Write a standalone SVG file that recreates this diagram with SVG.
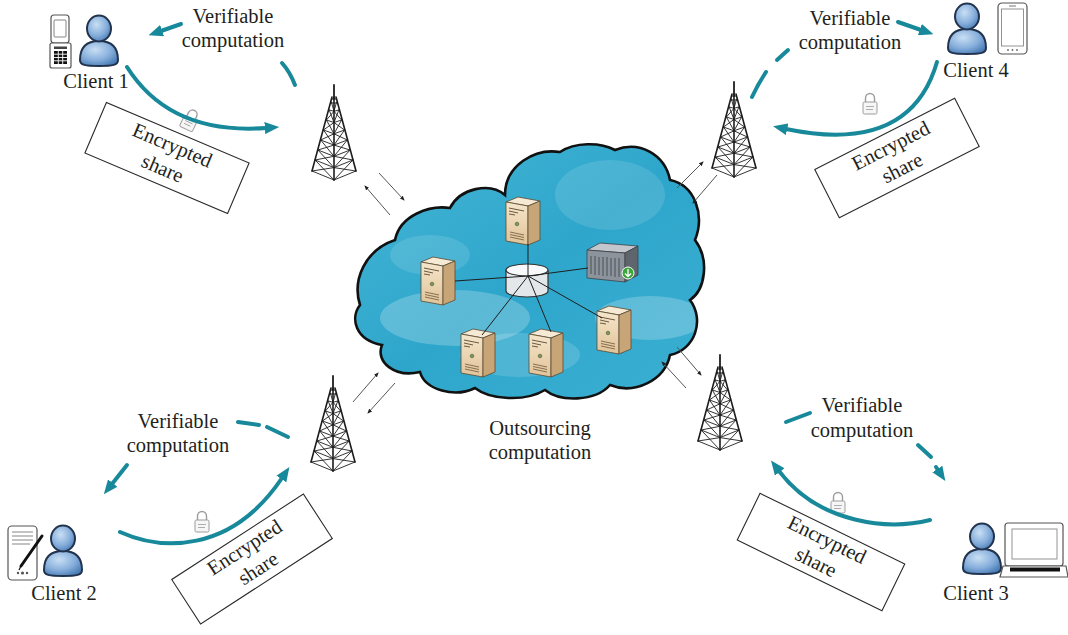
<svg xmlns="http://www.w3.org/2000/svg" xmlns:xlink="http://www.w3.org/1999/xlink" width="1068" height="635" viewBox="0 0 1068 635">
  <style>
    .lbl { font-family: "Liberation Serif", "Times New Roman", serif; font-size: 20.5px; fill: #231f20; }
    .box { fill: #ffffff; stroke: #2a2a2a; stroke-width: 1.1; }
    .flow { fill: none; stroke: #17899a; stroke-width: 4; stroke-linecap: round; }
    .link { fill: none; stroke: #555; stroke-width: 1; }
    .wire { fill: none; stroke: #1e1e1e; stroke-width: 1; }
    .dev { fill: #ffffff; stroke: #555; stroke-width: 1.2; }
  </style>
  <defs>
    <marker id="tealHead" viewBox="0 0 12 10" refX="1" refY="5" markerWidth="3.6" markerHeight="3" orient="auto" markerUnits="strokeWidth">
      <path d="M0,0 L12,5 L0,10 Z" fill="#17899a"/>
    </marker>
    <marker id="tinyHead" viewBox="0 0 10 10" refX="8" refY="5" markerWidth="5" markerHeight="5" orient="auto" markerUnits="strokeWidth">
      <path d="M0,1 L10,5 L0,9 Z" fill="#222"/>
    </marker>
    <radialGradient id="personFill" cx="0.4" cy="0.35" r="0.7">
      <stop offset="0" stop-color="#c9dff4"/>
      <stop offset="0.6" stop-color="#86aedb"/>
      <stop offset="1" stop-color="#4a7db6"/>
    </radialGradient>
    <linearGradient id="cloudFill" x1="0" y1="0" x2="1" y2="1">
      <stop offset="0" stop-color="#45b6d6"/>
      <stop offset="0.5" stop-color="#2ea6cb"/>
      <stop offset="1" stop-color="#3aafd2"/>
    </linearGradient>
    <linearGradient id="srvFront" x1="0" y1="0" x2="0" y2="1">
      <stop offset="0" stop-color="#f6e6cb"/>
      <stop offset="1" stop-color="#e0c398"/>
    </linearGradient>
    <clipPath id="cloudClip">
      <path id="cloudShape" d="M360,305 C352,280 365,250 395,240 C400,215 430,205 450,208 C460,188 490,182 505,195 C505,165 535,148 560,152 C575,142 600,142 615,150 C640,140 665,155 670,180 C695,185 705,215 695,240 C710,260 705,290 690,300 C705,320 695,350 670,355 C665,380 635,395 610,385 C595,402 560,402 545,390 C525,402 490,400 475,388 C455,398 425,390 420,372 C395,378 375,362 382,345 C355,340 350,318 360,305 Z"/>
    </clipPath>

    <!-- lattice radio mast, origin at the tip -->
    <g id="towerFace">
      <path d="M-4.8,25L0,26.3M-7.6,35L0,37.5M-10.5,45L0,48.8M-13.3,55L0,60.1M-16.1,65L0,71.3M-18.9,75L0,82.6M-22,86L0,95M-2.6,17L0,26.3M-4.8,25L0,37.5M0,26.3L-7.6,35M-7.6,35L0,48.8M0,37.5L-10.5,45M-10.5,45L0,60.1M0,48.8L-13.3,55M-13.3,55L0,71.3M0,60.1L-16.1,65M-16.1,65L0,82.6M0,71.3L-18.9,75M-18.9,75L0,95M0,82.6L-22,86"/>
    </g>
    <g id="tower" fill="none" stroke="#1d1d1d" stroke-width="0.9" stroke-linecap="round">
      <path d="M0,0 V14" stroke-width="1.8"/>
      <path d="M-2,12 L-22,86 M2,12 L22,86 M0,12 V95" stroke-width="1.6"/>
      <path d="M-2.5,14 H2.5 M-3,18 H3" stroke-width="1.2"/>
      <use href="#towerFace"/>
      <use href="#towerFace" transform="scale(-1,1)"/>
    </g>

    <!-- padlock, origin at the centre -->
    <g id="lock" fill="#f6f6f6" stroke="#9c9c9c" stroke-width="1">
      <path d="M-4.5,-2 V-6 A4.5,4.5 0 0 1 4.5,-6 V-2" fill="none" stroke-width="1.4"/>
      <rect x="-7" y="-2" width="14" height="12" rx="1.5"/>
      <path d="M-4,2.5 H4 M-4,5.5 H3" stroke-width="0.8"/>
    </g>

    <!-- user silhouette, origin top-left -->
    <g id="person" fill="url(#personFill)" stroke="#22334d" stroke-width="2">
      <path d="M2,46 C2,33 9,27 21,27 C33,27 40,33 40,46 C40,51 35,52 21,52 C7,52 2,51 2,46 Z"/>
      <ellipse cx="21" cy="14.5" rx="12" ry="13"/>
    </g>

    <!-- tower server, origin top-left -->
    <g id="server" stroke="#5b4a32" stroke-width="0.8" stroke-linejoin="round">
      <polygon points="0,5 22,9 34,4 12,0" fill="#f7ead4"/>
      <polygon points="0,5 22,9 22,48 0,44" fill="url(#srvFront)"/>
      <polygon points="22,9 34,4 34,43 22,48" fill="#c7a577"/>
      <path d="M3,11 L18,14 M3,14 L12,16 M3,17 L9,18" stroke="#6b5a40" stroke-width="1"/>
      <circle cx="11" cy="27" r="1.8" fill="#7a9a5a" stroke="#4a5a30" stroke-width="0.6"/>
      <path d="M4,35 L18,38 M4,37.5 L18,40.5 M4,40 L18,43" stroke="#7a6446" stroke-width="0.9"/>
    </g>
  </defs>

  <!-- cloud -->
  <g id="cloud">
    <use href="#cloudShape" fill="url(#cloudFill)"/>
    <g clip-path="url(#cloudClip)" fill="#ffffff">
      <ellipse cx="455" cy="318" rx="75" ry="28" opacity="0.22"/>
      <ellipse cx="520" cy="355" rx="60" ry="22" opacity="0.15"/>
      <ellipse cx="650" cy="318" rx="55" ry="22" opacity="0.22"/>
      <ellipse cx="610" cy="195" rx="55" ry="35" opacity="0.12"/>
      <ellipse cx="430" cy="255" rx="40" ry="20" opacity="0.12"/>
    </g>
    <use href="#cloudShape" fill="none" stroke="#111" stroke-width="2.6"/>
  </g>

  <!-- hub cylinder -->
  <g id="hub">
    <path d="M506,270 V291 A21,6 0 0 0 548,291 V270" fill="#e4e7ea" stroke="#333" stroke-width="1.2"/>
    <ellipse cx="527" cy="270" rx="21" ry="6" fill="#f8f9fa" stroke="#333" stroke-width="1.2"/>
  </g>

  <!-- servers and storage in the cloud -->
  <g id="server-top"><use href="#server" transform="translate(506,197)"/></g>
  <g id="server-left"><use href="#server" transform="translate(421,257)"/></g>
  <g id="server-bottom-left"><use href="#server" transform="translate(461,329)"/></g>
  <g id="server-bottom-mid"><use href="#server" transform="translate(529,329)"/></g>
  <g id="server-right"><use href="#server" transform="translate(597,306)"/></g>
  <g id="rack-server" stroke="#3c4148" stroke-width="0.8" stroke-linejoin="round">
    <polygon points="587,250 600,243 638,246 625,253" fill="#c3c7cd"/>
    <polygon points="587,250 625,253 625,282 587,278" fill="#8d939b"/>
    <polygon points="625,253 638,246 638,275 625,282" fill="#5f656d"/>
    <path d="M591,256 V274 M595,256 V275 M599,257 V275 M603,257 V276 M607,257 V276 M611,258 V276 M615,258 V277 M619,258 V277" stroke="#4a5058" stroke-width="1"/>
    <circle cx="628" cy="273" r="6" fill="#3da53d" stroke="#ffffff" stroke-width="1"/>
    <path d="M628,269 V276 M625,273.5 L628,276.5 L631,273.5" fill="none" stroke="#ffffff" stroke-width="1.3"/>
  </g>

  <!-- towers -->
  <g id="tower-1"><use href="#tower" transform="translate(334,85)"/></g>
  <g id="tower-2"><use href="#tower" transform="translate(333,376)"/></g>
  <g id="tower-3"><use href="#tower" transform="translate(720,355)"/></g>
  <g id="tower-4"><use href="#tower" transform="translate(734,82)"/></g>

  <!-- client 1 -->
  <g id="client-1">
    <rect class="dev" x="51" y="15" width="18" height="28" rx="3"/>
    <rect x="54" y="20" width="12" height="17" rx="1" fill="#fff" stroke="#777" stroke-width="0.9"/>
    <rect class="dev" x="50" y="43" width="21" height="25" rx="2"/>
    <rect x="54" y="46.5" width="13" height="2.5" fill="#444"/>
    <rect x="54" y="51" width="13" height="13" fill="#111"/>
    <path d="M58.3,51 V64 M62.7,51 V64 M54,54.2 H67 M54,57.5 H67 M54,60.8 H67" stroke="#fff" stroke-width="0.9"/>
    <use href="#person" transform="translate(78,14)"/>
    <text class="lbl" x="96" y="88" text-anchor="middle">Client 1</text>
  </g>

  <!-- client 4 -->
  <g id="client-4">
    <use href="#person" transform="translate(946,2)"/>
    <rect class="dev" x="998" y="3" width="29" height="51" rx="4"/>
    <rect x="1001.5" y="9" width="22" height="37" fill="#fff" stroke="#888" stroke-width="0.9"/>
    <path d="M1009,6 H1016" stroke="#777" stroke-width="1"/>
    <circle cx="1008" cy="50" r="0.9" fill="#666"/>
    <circle cx="1012.5" cy="50" r="0.9" fill="#666"/>
    <circle cx="1017" cy="50" r="0.9" fill="#666"/>
    <text class="lbl" x="976" y="77" text-anchor="middle">Client 4</text>
  </g>

  <!-- client 2 -->
  <g id="client-2">
    <rect class="dev" x="8" y="526" width="29" height="54" rx="4"/>
    <path d="M12,532 H33 M12,536 H33 M12,540 H33 M12,544 H30" stroke="#888" stroke-width="1.2"/>
    <circle cx="18" cy="573" r="1.2" fill="#555"/>
    <circle cx="22.5" cy="573" r="1.6" fill="#555"/>
    <circle cx="27" cy="573" r="1.2" fill="#555"/>
    <path d="M21,566 L42,536" stroke="#111" stroke-width="3" stroke-linecap="round"/>
    <path d="M21,566 L19,570" stroke="#111" stroke-width="1.2"/>
    <use href="#person" transform="translate(42,524)"/>
    <text class="lbl" x="64" y="600" text-anchor="middle">Client 2</text>
  </g>

  <!-- client 3 -->
  <g id="client-3">
    <use href="#person" transform="translate(961,522)"/>
    <rect class="dev" x="1005" y="523" width="58" height="43" rx="3" stroke="#444"/>
    <rect x="1012" y="529" width="45" height="30" fill="#fff" stroke="#888" stroke-width="0.9"/>
    <polygon points="1003,566 1066,566 1068,577 1000,577" fill="#fff" stroke="#555" stroke-width="1.2"/>
    <rect x="1010" y="567.5" width="50" height="4" fill="#111"/>
    <text class="lbl" x="976" y="600" text-anchor="middle">Client 3</text>
  </g>

  <!-- text blocks -->
  <g id="vc-1" class="lbl" text-anchor="middle">
    <text class="lbl" x="233" y="23">Verifiable</text>
    <text class="lbl" x="233" y="47">computation</text>
  </g>
  <g id="vc-4">
    <text class="lbl" x="850" y="25" text-anchor="middle">Verifiable</text>
    <text class="lbl" x="850" y="49" text-anchor="middle">computation</text>
  </g>
  <g id="vc-2">
    <text class="lbl" x="178" y="428" text-anchor="middle">Verifiable</text>
    <text class="lbl" x="178" y="452" text-anchor="middle">computation</text>
  </g>
  <g id="vc-3">
    <text class="lbl" x="862" y="412" text-anchor="middle">Verifiable</text>
    <text class="lbl" x="862" y="437" text-anchor="middle">computation</text>
  </g>
  <g id="outsourcing">
    <text class="lbl" x="540" y="435" text-anchor="middle">Outsourcing</text>
    <text class="lbl" x="540" y="459" text-anchor="middle">computation</text>
  </g>

  <!-- encrypted share boxes -->
  <g id="share-1" transform="translate(167,158) rotate(23)">
    <rect class="box" x="-77.5" y="-27.5" width="155" height="55"/>
    <text class="lbl" x="0" y="-7" text-anchor="middle">Encrypted</text>
    <text class="lbl" x="0" y="18" text-anchor="middle">share</text>
  </g>
  <g id="share-4" transform="translate(897,158) rotate(-27)">
    <rect class="box" x="-78.5" y="-27" width="157" height="54"/>
    <text class="lbl" x="0" y="-7" text-anchor="middle">Encrypted</text>
    <text class="lbl" x="0" y="18" text-anchor="middle">share</text>
  </g>
  <g id="share-2" transform="translate(252,559) rotate(-33)">
    <rect class="box" x="-78.5" y="-26.5" width="157" height="53"/>
    <text class="lbl" x="0" y="-7" text-anchor="middle">Encrypted</text>
    <text class="lbl" x="0" y="18" text-anchor="middle">share</text>
  </g>
  <g id="share-3" transform="translate(821,552) rotate(26)">
    <rect class="box" x="-80.5" y="-26" width="161" height="52"/>
    <text class="lbl" x="0" y="-7" text-anchor="middle">Encrypted</text>
    <text class="lbl" x="0" y="18" text-anchor="middle">share</text>
  </g>

  <!-- padlocks on the share arrows -->
  <g id="locks">
    <use href="#lock" transform="translate(190,120) rotate(25)"/>
    <use href="#lock" transform="translate(870,104)"/>
    <use href="#lock" transform="translate(202,522)"/>
    <use href="#lock" transform="translate(838,503)"/>
  </g>

  <!-- connectors -->
  <g id="connectors">
    <!-- hub wiring -->
    <path class="wire" d="M528,276 L528,244 M528,276 L455,281 M528,276 L588,268 M528,276 L482,335 M528,276 L551,332 M528,276 L602,318"/>

    <!-- radio links between towers and cloud -->
    <path class="link" d="M379,173 L404,200" marker-end="url(#tinyHead)"/>
    <path class="link" d="M390,215 L365,186" marker-end="url(#tinyHead)"/>
    <path class="link" d="M353,402 L378,373" marker-end="url(#tinyHead)"/>
    <path class="link" d="M395,383 L368,413" marker-end="url(#tinyHead)"/>
    <path class="link" d="M677,347 L701,375" marker-end="url(#tinyHead)"/>
    <path class="link" d="M686,388 L662,362" marker-end="url(#tinyHead)"/>
    <path class="link" d="M677,188 L703,162" marker-end="url(#tinyHead)"/>
    <path class="link" d="M717,175 L693,203" marker-end="url(#tinyHead)"/>

    <!-- client 1 -->
    <path class="flow" d="M295,85 Q290,72 282,63"/>
    <path class="flow" d="M181,24 L161,31" marker-end="url(#tealHead)"/>
    <path class="flow" d="M127,67 Q170,135 266,128" marker-end="url(#tealHead)"/>

    <!-- client 4 -->
    <path class="flow" d="M898,22 L921,30" marker-end="url(#tealHead)"/>
    <path class="flow" d="M788,50 L777,60"/>
    <path class="flow" d="M766,72 Q758,84 752,97"/>
    <path class="flow" d="M937,62 Q910,155 786,129" marker-end="url(#tealHead)"/>

    <!-- client 2 -->
    <path class="flow" d="M238,422 L259,425"/>
    <path class="flow" d="M267,427 L288,437"/>
    <path class="flow" d="M127,465 L112,484" marker-end="url(#tealHead)"/>
    <path class="flow" d="M120,532 C160,550 230,555 282,478" marker-end="url(#tealHead)"/>

    <!-- client 3 -->
    <path class="flow" d="M786,422 L810,413"/>
    <path class="flow" d="M918,445 L931,457"/>
    <path class="flow" d="M936,467 L938,470" marker-end="url(#tealHead)"/>
    <path class="flow" d="M930,520 C890,530 820,525 779,471" marker-end="url(#tealHead)"/>
  </g>
</svg>
